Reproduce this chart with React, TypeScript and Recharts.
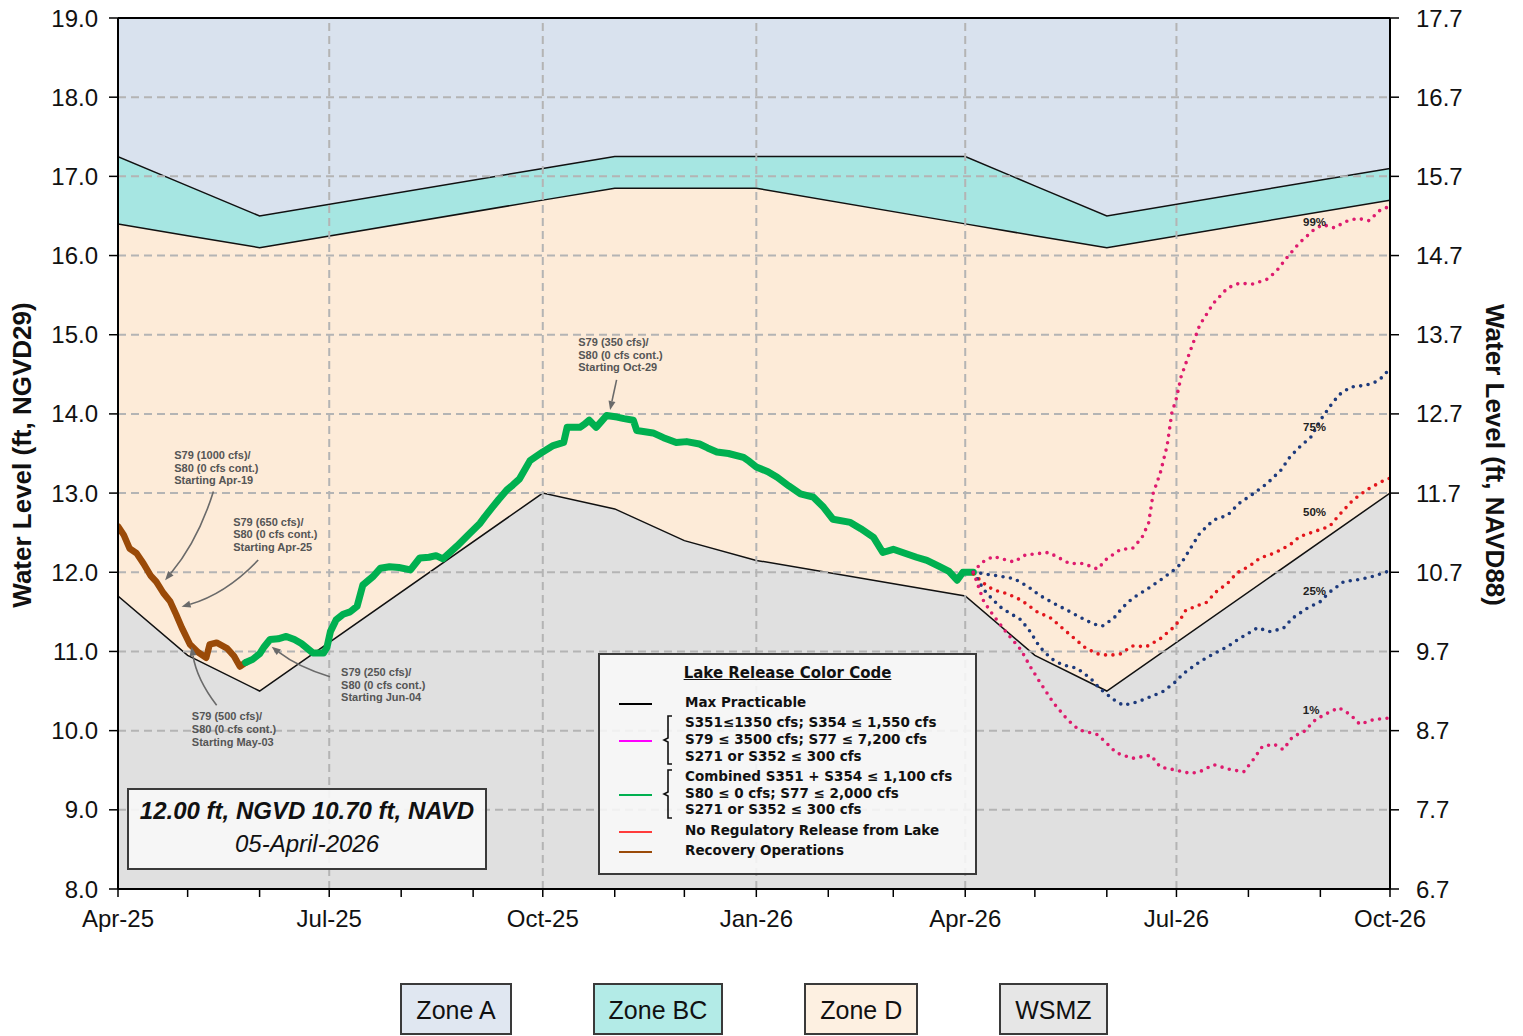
import React from "react";
import {
  ComposedChart,
  Area,
  Line,
  XAxis,
  YAxis,
  ReferenceLine,
  ReferenceDot,
} from "recharts";

const WIDTH = 1523;
const HEIGHT = 1036;
const FONT = "'Liberation Sans', Arial, sans-serif";
const LEGEND_FONT = "'DejaVu Sans', Verdana, sans-serif";

// x is days since 1-Apr-2025
const MONTH_DAYS = [0, 30, 61, 91, 122, 153, 183, 214, 244, 275, 306, 334, 365, 395, 426, 456, 487, 518, 548];
const QUARTER_LABELS: Record<number, string> = {
  0: "Apr-25",
  91: "Jul-25",
  183: "Oct-25",
  275: "Jan-26",
  365: "Apr-26",
  456: "Jul-26",
  548: "Oct-26",
};
const GRID_DAYS = [91, 183, 275, 365, 456];
const LEFT_TICKS = [8, 9, 10, 11, 12, 13, 14, 15, 16, 17, 18, 19];
const RIGHT_TICKS = [6.7, 7.7, 8.7, 9.7, 10.7, 11.7, 12.7, 13.7, 14.7, 15.7, 16.7, 17.7];

// zone boundaries
const ZONE_DAYS = [0, 30, 61, 183, 214, 244, 275, 365, 395, 426, 548];
const ZONE_BC_TOP = [17.25, 16.88, 16.5, 17.1, 17.25, 17.25, 17.25, 17.25, 16.88, 16.5, 17.1];
const ZONE_D_TOP = [16.4, 16.25, 16.1, 16.7, 16.85, 16.85, 16.85, 16.4, 16.25, 16.1, 16.7];
const WSMZ_TOP = [11.7, 10.95, 10.5, 13.0, 12.8, 12.4, 12.15, 11.7, 10.95, 10.5, 13.0];

// observed stage
const BROWN_DAYS = [0, 2.5, 5, 8, 11, 14, 16.5, 19.5, 22.5, 25, 27.5, 31, 34.5, 38, 39.5, 42.5, 47, 50, 52.5, 55];
const BROWN_LEVELS = [12.58, 12.47, 12.3, 12.24, 12.11, 11.96, 11.88, 11.74, 11.63, 11.47, 11.3, 11.09, 10.99, 10.92, 11.09, 11.11, 11.04, 10.94, 10.81, 10.86];

const GREEN_DAYS = [55, 58, 61, 63, 65.5, 69, 72.5, 76, 79, 84, 88.5, 90, 91.5, 94, 97, 100, 103, 105.5, 110, 113, 117, 121, 126, 130, 134, 137, 140, 146, 151.5, 156, 158, 161.5, 164, 167.5, 170, 173, 177.5, 180, 183, 187.5, 192, 193.5, 199, 201, 203, 206, 210.5, 215, 218, 222, 223.5, 230.5, 235, 240.5, 245, 250.5, 254, 258, 263, 269.5, 272, 275, 280, 284, 289, 294, 299.5, 304, 308, 315.5, 320, 325.5, 329.5, 334, 339, 344, 348.5, 354, 358, 361.5, 364, 368.5];
const GREEN_LEVELS = [10.86, 10.9, 10.97, 11.06, 11.15, 11.16, 11.19, 11.15, 11.1, 10.98, 10.98, 11.05, 11.25, 11.4, 11.47, 11.5, 11.57, 11.84, 11.95, 12.05, 12.07, 12.06, 12.03, 12.18, 12.19, 12.21, 12.17, 12.33, 12.49, 12.62, 12.7, 12.83, 12.92, 13.04, 13.1, 13.18, 13.41, 13.46, 13.52, 13.6, 13.64, 13.83, 13.83, 13.87, 13.92, 13.83, 13.98, 13.96, 13.94, 13.92, 13.79, 13.76, 13.7, 13.64, 13.65, 13.62, 13.57, 13.52, 13.5, 13.45, 13.4, 13.33, 13.27, 13.2, 13.09, 12.99, 12.95, 12.82, 12.67, 12.63, 12.55, 12.44, 12.25, 12.29, 12.24, 12.19, 12.15, 12.07, 12.01, 11.9, 12.0, 12.0];

// position analysis projections
const P99_DAYS = [368.5, 372, 377, 386, 391, 401, 410, 416, 422, 426, 432, 437, 441, 444, 446, 449, 452, 454, 456, 458, 462, 466, 472, 478, 483, 489, 495, 499, 504, 509, 515, 519, 524, 529, 534, 539, 544, 548];
const P99_LEVELS = [12.0, 12.12, 12.2, 12.13, 12.22, 12.25, 12.11, 12.11, 12.04, 12.17, 12.29, 12.3, 12.43, 12.62, 13.0, 13.25, 13.6, 14.01, 14.2, 14.47, 14.8, 15.12, 15.4, 15.59, 15.65, 15.64, 15.7, 15.8, 15.99, 16.16, 16.32, 16.39, 16.35, 16.43, 16.47, 16.44, 16.58, 16.62];

const P75_DAYS = [368.5, 371, 380, 386, 392, 397, 403, 409, 414, 420, 424, 429, 433, 437, 443, 449, 455, 458, 462, 466, 472, 478, 483, 489, 495, 501, 505, 509, 514, 518, 522, 526, 531, 537, 541, 545, 548];
const P75_LEVELS = [12.0, 11.99, 11.95, 11.92, 11.82, 11.71, 11.61, 11.52, 11.44, 11.35, 11.32, 11.42, 11.56, 11.67, 11.78, 11.9, 12.03, 12.11, 12.3, 12.49, 12.66, 12.72, 12.87, 12.99, 13.12, 13.29, 13.46, 13.58, 13.71, 13.92, 14.09, 14.24, 14.34, 14.36, 14.39, 14.47, 14.58];

const P50_DAYS = [368.5, 373, 377, 383, 389, 396, 402, 407, 413, 417, 422, 427, 432, 437, 443, 449, 455, 458, 460, 466, 469, 473, 478, 482, 488, 492, 498, 502, 506, 509, 515, 522, 526, 532, 538, 544, 548];
const P50_LEVELS = [11.98, 11.86, 11.78, 11.73, 11.65, 11.5, 11.42, 11.29, 11.14, 11.04, 10.97, 10.95, 10.97, 11.07, 11.06, 11.16, 11.31, 11.42, 11.52, 11.59, 11.62, 11.75, 11.86, 11.99, 12.09, 12.18, 12.24, 12.3, 12.37, 12.45, 12.51, 12.58, 12.72, 12.91, 13.04, 13.14, 13.19];

const P25_DAYS = [368.5, 373, 377, 381, 389, 393, 397, 402, 407, 413, 419, 423, 429, 433, 439, 445, 450, 455, 459, 466, 472, 478, 483, 491, 496, 502, 506, 512, 518, 522, 528, 535, 541, 548];
const P25_LEVELS = [12.0, 11.78, 11.65, 11.54, 11.4, 11.25, 11.06, 10.91, 10.83, 10.79, 10.66, 10.53, 10.39, 10.32, 10.36, 10.43, 10.49, 10.6, 10.72, 10.87, 10.97, 11.06, 11.16, 11.3, 11.25, 11.29, 11.42, 11.54, 11.63, 11.75, 11.88, 11.91, 11.95, 12.02];

const P1_DAYS = [368.5, 373, 377, 383, 389, 393, 397, 403, 409, 414, 422, 426, 430, 437, 445, 449, 456, 462, 466, 472, 479, 485, 489, 493, 498, 502, 506, 511, 516, 521, 526, 531, 535, 541, 548];
const P1_LEVELS = [12.0, 11.63, 11.46, 11.23, 11.02, 10.81, 10.62, 10.35, 10.14, 10.01, 9.95, 9.84, 9.72, 9.65, 9.69, 9.54, 9.5, 9.46, 9.48, 9.57, 9.51, 9.48, 9.63, 9.8, 9.83, 9.76, 9.92, 9.99, 10.14, 10.22, 10.29, 10.2, 10.08, 10.14, 10.16];

const ZONE_COLORS = { a: "#d9e2ee", bc: "#a6e6e2", d: "#fdebd8", w: "#e0e0e0" };
const GREEN = "#00b050";
const BROWN = "#9a4a08";
const PINK = "#de1b6e";
const NAVY = "#1d3a7c";
const RED = "#e3161c";

const PROJECTIONS = [
  { name: "99%", days: P99_DAYS, levels: P99_LEVELS, color: PINK, labelDay: 515.5, labelLevel: 16.42 },
  { name: "75%", days: P75_DAYS, levels: P75_LEVELS, color: NAVY, labelDay: 515.5, labelLevel: 13.84 },
  { name: "50%", days: P50_DAYS, levels: P50_LEVELS, color: RED, labelDay: 515.5, labelLevel: 12.76 },
  { name: "25%", days: P25_DAYS, levels: P25_LEVELS, color: NAVY, labelDay: 515.5, labelLevel: 11.76 },
  { name: "1%", days: P1_DAYS, levels: P1_LEVELS, color: PINK, labelDay: 514, labelLevel: 10.26 },
];

// operational notes: text anchor, arrow tail -> arrow head, curve bend (px)
const NOTES = [
  { lines: ["S79 (1000 cfs)/", "S80 (0 cfs cont.)", "Starting Apr-19"], day: 24.2, level: 13.43, from: [41.1, 13.02], to: [20.3, 11.9], bend: -5 },
  { lines: ["S79 (650 cfs)/", "S80 (0 cfs cont.)", "Starting Apr-25"], day: 49.6, level: 12.59, from: [60.4, 12.155], to: [27.4, 11.565], bend: -6 },
  { lines: ["S79 (500 cfs)/", "S80 (0 cfs cont.)", "Starting May-03"], day: 31.8, level: 10.13, from: [42.5, 10.32], to: [31.7, 11.06], bend: -4 },
  { lines: ["S79 (250 cfs)/", "S80 (0 cfs cont.)", "Starting Jun-04"], day: 96.1, level: 10.69, from: [91.3, 10.68], to: [66.2, 11.06], bend: -3 },
  { lines: ["S79 (350 cfs)/", "S80 (0 cfs cont.)", "Starting Oct-29"], day: 198.3, level: 14.86, from: [214.8, 14.43], to: [212.0, 14.05], bend: 0 },
];

const toPoints = (days: number[], levels: number[]) =>
  days.map((day, i) => ({ day, level: levels[i] }));

const zoneData = ZONE_DAYS.map((day, i) => ({
  day,
  a: 19,
  bc: ZONE_BC_TOP[i],
  d: ZONE_D_TOP[i],
  w: WSMZ_TOP[i],
}));

function arrowShape(bend: number) {
  // eslint-disable-next-line @typescript-eslint/no-explicit-any
  return (props: any) => {
    const { x1, y1, x2, y2 } = props;
    if ([x1, y1, x2, y2].some((v) => typeof v !== "number")) return <g />;
    const dx = x2 - x1;
    const dy = y2 - y1;
    const len = Math.hypot(dx, dy) || 1;
    const px = -dy / len;
    const py = dx / len;
    const cx = (x1 + x2) / 2 + px * bend * 2;
    const cy = (y1 + y2) / 2 + py * bend * 2;
    const tx = x2 - cx;
    const ty = y2 - cy;
    const tl = Math.hypot(tx, ty) || 1;
    const ux = tx / tl;
    const uy = ty / tl;
    const head = 9;
    const half = 3.5;
    const bx = x2 - ux * head;
    const by = y2 - uy * head;
    return (
      <g>
        <path
          d={`M${x1},${y1} Q${cx},${cy} ${bx},${by}`}
          fill="none"
          stroke="#6a6a6a"
          strokeWidth={1.6}
        />
        <polygon
          points={`${x2},${y2} ${bx - uy * half},${by + ux * half} ${bx + uy * half},${by - ux * half}`}
          fill="#6a6a6a"
        />
      </g>
    );
  };
}

function noteShape(lines: string[]) {
  // eslint-disable-next-line @typescript-eslint/no-explicit-any
  return (props: any) => (
    <text
      x={props.cx}
      y={props.cy}
      fontSize={11}
      fontWeight="bold"
      fill="#555"
      fontFamily={FONT}
    >
      {lines.map((l, i) => (
        <tspan key={i} x={props.cx} dy={i === 0 ? 0 : 12.7}>
          {l}
        </tspan>
      ))}
    </text>
  );
}

function pctShape(label: string) {
  // eslint-disable-next-line @typescript-eslint/no-explicit-any
  return (props: any) => (
    <text
      x={props.cx}
      y={props.cy}
      fontSize={11.5}
      fontWeight="bold"
      fill="#222"
      textAnchor="middle"
      dominantBaseline="central"
      fontFamily={FONT}
    >
      {label}
    </text>
  );
}

function Brace({ top, height }: { top: number; height: number }) {
  const m = height / 2;
  return (
    <svg
      style={{ position: "absolute", left: 60, top, overflow: "visible" }}
      width={14}
      height={height}
    >
      <path
        d={`M12,1 L8,1 L8,${m - 2} L4,${m} L8,${m + 2} L8,${height - 1} L12,${height - 1}`}
        fill="none"
        stroke="#111"
        strokeWidth={1.6}
      />
    </svg>
  );
}

function ReleaseLegend() {
  const rowStyle: React.CSSProperties = {
    position: "absolute",
    left: 85,
    whiteSpace: "nowrap",
    lineHeight: "16px",
  };
  const swatch = (color: string, y: number) => (
    <div
      style={{
        position: "absolute",
        left: 19,
        top: y - 1.25,
        width: 33,
        height: 2.5,
        background: color,
      }}
    />
  );
  const rows: [string, number][] = [
    ["Max Practicable", 49],
    ["S351\u22641350 cfs; S354 \u2264 1,550 cfs", 69.7],
    ["S79 \u2264 3500 cfs; S77 \u2264 7,200 cfs", 86],
    ["S271 or S352 \u2264 300 cfs", 103],
    ["Combined S351 + S354 \u2264 1,100 cfs", 123.7],
    ["S80 \u2264 0 cfs; S77 \u2264 2,000 cfs", 140],
    ["S271 or S352 \u2264 300 cfs", 156.5],
    ["No Regulatory Release from Lake", 177],
    ["Recovery Operations", 197],
  ];
  return (
    <div
      style={{
        position: "absolute",
        left: 598,
        top: 653,
        width: 379,
        height: 222,
        boxSizing: "border-box",
        border: "2.5px solid #3a3a3a",
        background: "rgba(248,248,248,0.88)",
        fontFamily: LEGEND_FONT,
        fontWeight: "bold",
        fontSize: 13.5,
        color: "#111",
      }}
    >
      <div
        style={{
          position: "absolute",
          left: 0,
          right: 0,
          top: 9,
          textAlign: "center",
          fontSize: 15,
          textDecoration: "underline",
          lineHeight: "18px",
        }}
      >
        Lake Release Color Code
      </div>
      {rows.map(([text, y], i) => (
        <div key={i} style={{ ...rowStyle, top: y - 10.5 }}>
          {text}
        </div>
      ))}
      {swatch("#000", 49)}
      {swatch("#ff00ff", 86)}
      {swatch(GREEN, 140)}
      {swatch("#ff3b3b", 177)}
      {swatch(BROWN, 197)}
      <Brace top={60} height={50} />
      <Brace top={114} height={50} />
    </div>
  );
}

const ZONE_LEGEND: [string, string][] = [
  ["Zone A", "#e0e7f1"],
  ["Zone BC", "#b3ebe7"],
  ["Zone D", "#fdf0e1"],
  ["WSMZ", "#e6e6e6"],
];

export default function App() {
  return (
    <div
      style={{
        position: "absolute",
        left: 0,
        top: 0,
        width: WIDTH,
        height: HEIGHT,
        background: "#fff",
        fontFamily: FONT,
        overflow: "hidden",
      }}
    >
      <ComposedChart
        width={WIDTH}
        height={HEIGHT}
        margin={{ top: 18, right: 0, bottom: 0, left: 0 }}
      >
        <XAxis
          type="number"
          dataKey="day"
          domain={[0, 548]}
          ticks={MONTH_DAYS}
          interval={0}
          allowDataOverflow
          tickFormatter={(v: number) => QUARTER_LABELS[v] ?? ""}
          height={147}
          tickSize={8}
          tickMargin={13}
          tick={{ fontSize: 24, fill: "#111", fontFamily: FONT }}
          axisLine={{ stroke: "#000", strokeWidth: 2 }}
          tickLine={{ stroke: "#000", strokeWidth: 1.5 }}
        />
        <YAxis
          yAxisId="left"
          type="number"
          domain={[8, 19]}
          ticks={LEFT_TICKS}
          interval={0}
          allowDataOverflow
          tickFormatter={(v: number) => v.toFixed(1)}
          width={118}
          tickSize={9}
          tickMargin={11}
          tick={{ fontSize: 24, fill: "#111", fontFamily: FONT }}
          axisLine={{ stroke: "#000", strokeWidth: 2 }}
          tickLine={{ stroke: "#000", strokeWidth: 1.5 }}
        />
        <YAxis
          yAxisId="right"
          orientation="right"
          type="number"
          domain={[6.7, 17.7]}
          ticks={RIGHT_TICKS}
          interval={0}
          allowDataOverflow
          tickFormatter={(v: number) => v.toFixed(1)}
          width={133}
          tickSize={9}
          tickMargin={17}
          tick={{ fontSize: 24, fill: "#111", fontFamily: FONT }}
          axisLine={{ stroke: "#000", strokeWidth: 2 }}
          tickLine={{ stroke: "#000", strokeWidth: 1.5 }}
        />

        <Area yAxisId="left" data={zoneData} dataKey="a" type="linear" fill={ZONE_COLORS.a} fillOpacity={1} stroke="none" isAnimationActive={false} />
        <Area yAxisId="left" data={zoneData} dataKey="bc" type="linear" fill={ZONE_COLORS.bc} fillOpacity={1} stroke="#111" strokeWidth={1.5} isAnimationActive={false} />
        <Area yAxisId="left" data={zoneData} dataKey="d" type="linear" fill={ZONE_COLORS.d} fillOpacity={1} stroke="#111" strokeWidth={1.5} isAnimationActive={false} />
        <Area yAxisId="left" data={zoneData} dataKey="w" type="linear" fill={ZONE_COLORS.w} fillOpacity={1} stroke="#111" strokeWidth={1.5} isAnimationActive={false} />

        {LEFT_TICKS.slice(1, -1).map((v) => (
          <ReferenceLine key={`h${v}`} yAxisId="left" y={v} stroke="#b4b4b4" strokeWidth={2} strokeDasharray="8 5" />
        ))}
        {GRID_DAYS.map((d) => (
          <ReferenceLine key={`v${d}`} yAxisId="left" x={d} stroke="#b4b4b4" strokeWidth={2} strokeDasharray="8 5" />
        ))}
        <ReferenceLine yAxisId="left" y={19} stroke="#000" strokeWidth={2} />

        <Line yAxisId="left" data={toPoints(BROWN_DAYS, BROWN_LEVELS)} dataKey="level" type="linear" stroke={BROWN} strokeWidth={6.5} strokeLinejoin="round" strokeLinecap="round" dot={false} isAnimationActive={false} />
        <Line yAxisId="left" data={toPoints(GREEN_DAYS, GREEN_LEVELS)} dataKey="level" type="linear" stroke={GREEN} strokeWidth={7} strokeLinejoin="round" strokeLinecap="round" dot={false} isAnimationActive={false} />
        {PROJECTIONS.map((p) => (
          <Line
            key={p.name}
            yAxisId="left"
            data={toPoints(p.days, p.levels)}
            dataKey="level"
            type="linear"
            stroke={p.color}
            strokeWidth={3.6}
            strokeDasharray="0 7.5"
            strokeLinecap="round"
            dot={false}
            isAnimationActive={false}
          />
        ))}

        {PROJECTIONS.map((p) => (
          <ReferenceDot key={`l${p.name}`} yAxisId="left" x={p.labelDay} y={p.labelLevel} r={0} ifOverflow="visible" shape={pctShape(p.name)} />
        ))}
        {NOTES.map((n, i) => (
          <ReferenceLine
            key={`a${i}`}
            yAxisId="left"
            segment={[
              { x: n.from[0], y: n.from[1] },
              { x: n.to[0], y: n.to[1] },
            ]}
            ifOverflow="visible"
            shape={arrowShape(n.bend)}
          />
        ))}
        {NOTES.map((n, i) => (
          <ReferenceDot key={`n${i}`} yAxisId="left" x={n.day} y={n.level} r={0} ifOverflow="visible" shape={noteShape(n.lines)} />
        ))}
      </ComposedChart>

      <div
        style={{
          position: "absolute",
          left: 22 - 200,
          top: 455 - 15,
          width: 400,
          height: 30,
          lineHeight: "30px",
          textAlign: "center",
          fontWeight: "bold",
          fontSize: 26,
          color: "#111",
          transform: "rotate(-90deg)",
        }}
      >
        Water Level (ft, NGVD29)
      </div>
      <div
        style={{
          position: "absolute",
          left: 1495 - 200,
          top: 455 - 15,
          width: 400,
          height: 30,
          lineHeight: "30px",
          textAlign: "center",
          fontWeight: "bold",
          fontSize: 26,
          color: "#111",
          transform: "rotate(90deg)",
        }}
      >
        Water Level (ft, NAVD88)
      </div>

      <ReleaseLegend />

      <div
        style={{
          position: "absolute",
          left: 127,
          top: 788,
          width: 360,
          height: 82,
          boxSizing: "border-box",
          border: "2.5px solid #3a3a3a",
          background: "rgba(247,247,247,0.92)",
          textAlign: "center",
          fontSize: 24,
          color: "#111",
        }}
      >
        <div style={{ fontWeight: "bold", fontStyle: "italic", marginTop: 7, lineHeight: "28px" }}>
          12.00 ft, NGVD 10.70 ft, NAVD
        </div>
        <div style={{ fontStyle: "italic", lineHeight: "30px", marginTop: 4 }}>05-April-2026</div>
      </div>

      <div
        style={{
          position: "absolute",
          left: 0,
          width: 1508,
          top: 983,
          display: "flex",
          justifyContent: "center",
          gap: 81,
        }}
      >
        {ZONE_LEGEND.map(([name, color]) => (
          <div
            key={name}
            style={{
              background: color,
              border: "2px solid #3a3a3a",
              padding: "0 14px",
              height: 52,
              lineHeight: "50px",
              fontSize: 25,
              color: "#111",
              boxSizing: "border-box",
            }}
          >
            {name}
          </div>
        ))}
      </div>
    </div>
  );
}
